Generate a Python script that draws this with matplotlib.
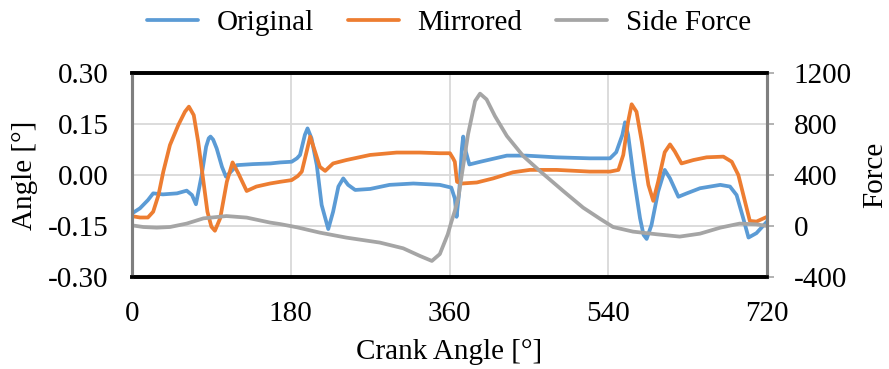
import matplotlib
matplotlib.use("Agg")
import matplotlib.pyplot as plt

plt.rcParams['font.family'] = ['Liberation Serif', 'DejaVu Serif']
plt.rcParams['font.size'] = 21
plt.rcParams['axes.unicode_minus'] = False

# Original (angle, deg)
orig_x = [0, 9, 18, 24, 35, 51, 62, 68, 72.5, 79, 84, 87, 89, 92, 96, 102, 106.5, 113, 119,
          137, 157, 168, 181, 187, 190.5, 196, 199, 203.5, 209.5, 215, 222.5, 228,
          234, 239.5, 245, 253, 270, 292, 319, 349, 362, 366, 368, 371, 374, 375.5,
          378.5, 382.5, 395, 425, 447, 481, 519, 542, 549, 556, 559, 562.5, 568.5,
          576, 580, 583.5, 589, 596.5, 604, 610, 619.5, 629, 644, 667, 678, 685.5, 693,
          699, 708, 720]
orig_y = [-0.113, -0.098, -0.074, -0.054, -0.057, -0.054, -0.046, -0.059, -0.086, 0.0,
          0.083, 0.108, 0.113, 0.104, 0.078, 0.024, -0.005, 0.012, 0.029, 0.032, 0.034,
          0.037, 0.039, 0.049, 0.059, 0.118, 0.137, 0.108, 0.029, -0.088, -0.159, -0.108,
          -0.034, -0.010, -0.029, -0.044, -0.041, -0.029, -0.025, -0.029, -0.037, -0.069,
          -0.123, -0.049, 0.078, 0.113, 0.069, 0.031, 0.039, 0.057, 0.057, 0.052,
          0.049, 0.049, 0.067, 0.118, 0.155, 0.118, 0.0, -0.127, -0.176, -0.188, -0.147,
          -0.049, 0.015, -0.010, -0.064, -0.054, -0.039, -0.029, -0.034, -0.059,
          -0.127, -0.184, -0.171, -0.137]

# Mirrored
mirr_x = [0, 9, 18, 24, 30, 35.5, 43, 52.5, 60, 64.5, 70, 75, 80, 85.5, 90, 94, 100, 107.5,
          114, 120.5, 130, 141, 156.5, 168, 181, 188, 192.5, 198, 202, 207.5, 213, 219,
          228, 243, 270, 300, 326, 349, 360.5, 364, 366, 368.5, 374, 391, 409.5, 432,
          451, 481.5, 519, 542, 551.5, 557, 562.5, 566.5, 572, 578, 585.5, 591, 596.5,
          604, 610, 615.5, 623, 636.5, 651.5, 670.5, 680, 687.5, 695, 700.5, 708, 720]
mirr_y = [-0.121, -0.125, -0.125, -0.108, -0.059, 0.010, 0.088, 0.147, 0.186, 0.201,
          0.176, 0.098, 0.0, -0.108, -0.152, -0.164, -0.127, -0.020, 0.037, 0.005, -0.047,
          -0.034, -0.025, -0.020, -0.015, -0.003, 0.010, 0.069, 0.113, 0.069, 0.024,
          0.012, 0.034, 0.044, 0.059, 0.066, 0.066, 0.064, 0.064, 0.049, 0.039, -0.020,
          -0.025, -0.022, -0.010, 0.008, 0.015, 0.015, 0.010, 0.010, 0.015, 0.059,
          0.157, 0.208, 0.186, 0.098, -0.029, -0.076, -0.020, 0.067, 0.090, 0.069,
          0.034, 0.044, 0.052, 0.054, 0.039, 0.0, -0.078, -0.135, -0.137, -0.123]

# Side force (right axis)
force_x = [0, 13, 28, 43, 62, 81, 107, 130, 156.5, 168, 187, 213, 243, 281, 307.5,
           326.5, 340, 349, 358, 362, 366, 370, 374, 381, 389, 394.6, 402, 411.5, 425,
           443.5, 462.5, 489, 511.5, 531, 545.5, 568, 595, 621, 644, 667, 689, 708, 720]
force_y = [5, -8, -13, -8, 19, 60, 78, 66, 27, 15, -10, -52, -91, -130, -175, -235,
           -274, -220, -65, 30, 118, 223, 405, 719, 980, 1038, 993, 862, 706, 549, 431,
           274, 144, 55, -8, -44, -65, -83, -60, -13, 19, 13, 0]

x_ticks = [0, 180, 360, 540, 720]
y_ticks = [-0.30, -0.15, 0.00, 0.15, 0.30]
f_ticks = [-400, 0, 400, 800, 1200]

fig = plt.figure(figsize=(8.89, 3.69), dpi=100)
ax = fig.add_axes([0.1485, 0.2493, 0.7143, 0.5529])
ax2 = ax.twinx()

style = dict(lw=2.7, solid_joinstyle='round', solid_capstyle='round')
l1, = ax.plot(orig_x, orig_y, color='#5B9BD5', label='Original', **style)
l2, = ax.plot(mirr_x, mirr_y, color='#ED7D31', label='Mirrored', **style)
l3, = ax2.plot(force_x, force_y, color='#A5A5A5', label='Side Force', **style)

ax.set_xlim(0, 720)
ax.set_ylim(-0.30, 0.30)
ax2.set_ylim(-400, 1200)
ax.set_xticks(x_ticks)
ax.set_yticks(y_ticks)
ax.set_yticklabels([f'{v:.2f}' for v in y_ticks])
ax2.set_yticks(f_ticks)

ax.grid(True, color='#D9D9D9', lw=1.3)
ax.set_axisbelow(True)

for a in (ax, ax2):
    a.spines['top'].set_color('black')
    a.spines['top'].set_linewidth(2.6)
    a.spines['bottom'].set_color('black')
    a.spines['bottom'].set_linewidth(2.6)
    a.spines['left'].set_color('#7F7F7F')
    a.spines['left'].set_linewidth(2.2)
    a.spines['right'].set_color('#7F7F7F')
    a.spines['right'].set_linewidth(2.2)

ax.tick_params(axis='x', length=0, pad=17)
ax.tick_params(axis='y', length=0, pad=17)
ax2.tick_params(axis='y', length=5, width=1.2, color='#A5A5A5', pad=14)

fig.text(0.028, 0.525, 'Angle [°]', rotation=90, ha='center', va='center')
fig.text(0.984, 0.525, 'Force', rotation=90, ha='center', va='center')
fig.text(0.505, 0.045, 'Crank Angle [°]', ha='center', va='center')

fig.legend(handles=[l1, l2, l3], loc='center', bbox_to_anchor=(0.505, 0.937),
           ncol=3, frameon=False, handlelength=1.75,
           columnspacing=1.15, handletextpad=0.65)

fig.savefig('out.png', dpi=100)
